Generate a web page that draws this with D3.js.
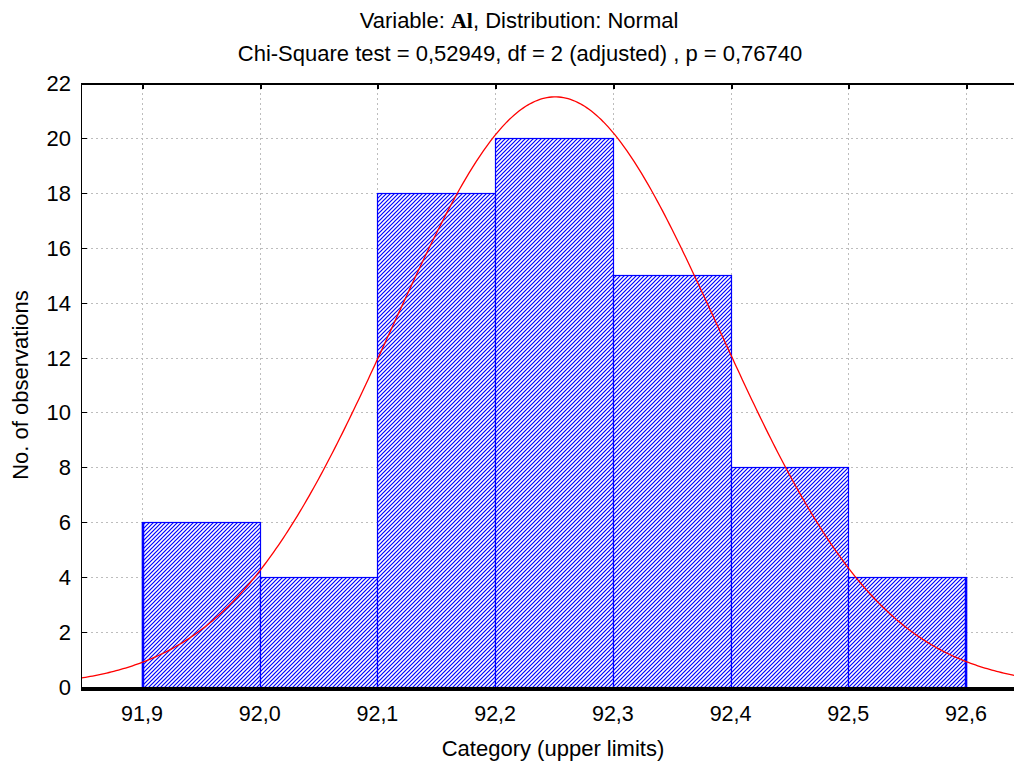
<!DOCTYPE html>
<html><head><meta charset="utf-8">
<script src="https://cdn.jsdelivr.net/npm/d3@7"></script>
<style>body{margin:0;background:#fff}svg{display:block}text{font-family:"Liberation Sans",Arial,sans-serif;fill:#000}</style>
</head><body>
<svg id="c" width="1014" height="764"></svg>
<script>
// Data
const binEdges = [91.9, 92.0, 92.1, 92.2, 92.3, 92.4, 92.5, 92.6];
const counts = [6, 4, 18, 20, 15, 8, 4];
const xTickLabels = ["91,9","92,0","92,1","92,2","92,3","92,4","92,5","92,6"];
const yTicks = [0,2,4,6,8,10,12,14,16,18,20,22];
// fitted normal distribution parameters
const fitMean = 92.251;
const fitSd = 0.1392;
const nObs = 75;
const binWidth = 0.1;

const svg = d3.select("#c");
const L = 81, R = 1014, T = 83, B = 687;
const x = d3.scaleLinear().domain([91.9, 92.6]).range([142, 966]);
const y = d3.scaleLinear().domain([0, 22]).range([B, T]);

const defs = svg.append("defs");
const pat = defs.append("pattern").attr("id","hatch").attr("patternUnits","userSpaceOnUse")
  .attr("width",4).attr("height",4);
pat.append("rect").attr("width",4).attr("height",4).attr("fill","#ffffff");
pat.append("path").attr("d","M-1,1 L1,-1 M0,4 L4,0 M3,5 L5,3")
  .attr("stroke","#0000ff").attr("stroke-width",1.2).attr("fill","none");
defs.append("clipPath").attr("id","clip").append("rect").attr("x",L).attr("y",T).attr("width",R-L).attr("height",B-T);

// grid
const grid = svg.append("g").attr("stroke","#bdbdbd").attr("stroke-dasharray","2,3").attr("shape-rendering","crispEdges");
yTicks.forEach(v=>{ if(v>0 && v<22) grid.append("line").attr("x1",L).attr("x2",R).attr("y1",Math.round(y(v))+0.5).attr("y2",Math.round(y(v))+0.5); });
binEdges.forEach(v=>grid.append("line").attr("x1",Math.round(x(v))+0.5).attr("x2",Math.round(x(v))+0.5).attr("y1",T).attr("y2",B));

// bars
const bars = svg.append("g");
counts.forEach((c,i)=>{
  const x0 = Math.round(x(binEdges[i])), x1 = Math.round(x(binEdges[i+1]));
  const yt = Math.round(y(c));
  bars.append("rect").attr("x",x0).attr("y",yt).attr("width",x1-x0).attr("height",B-yt)
    .attr("fill","url(#hatch)");
  bars.append("rect").attr("x",x0+0.5).attr("y",yt+0.5).attr("width",x1-x0).attr("height",B-yt)
    .attr("fill","none").attr("stroke","#0000ff").attr("stroke-width",1.2);
});
// thicker outer edges
[0, binEdges.length-1].forEach(k=>{
  const c = k===0 ? counts[0] : counts[counts.length-1];
  const xx = Math.round(x(binEdges[k])) + (k===0?1:0);
  svg.append("line").attr("x1",xx).attr("x2",xx)
    .attr("y1",y(c)).attr("y2",B).attr("stroke","#0000ff").attr("stroke-width",2.5);
});

// normal curve
const xs = d3.range(91.84, 92.65, 0.002);
const dens = v => nObs*binWidth/(fitSd*Math.sqrt(2*Math.PI))*Math.exp(-0.5*((v-fitMean)/fitSd)**2);
svg.append("path").attr("clip-path","url(#clip)")
  .attr("d", d3.line().x(v=>x(v)).y(v=>y(dens(v)))(xs))
  .attr("fill","none").attr("stroke","#ff0000").attr("stroke-width",1.3);

// frame
const fr = svg.append("g").attr("shape-rendering","crispEdges");
fr.append("line").attr("x1",L).attr("x2",R).attr("y1",T+0.5).attr("y2",T+0.5).attr("stroke","#000").attr("stroke-width",2);
fr.append("line").attr("x1",L+0.5).attr("x2",L+0.5).attr("y1",T).attr("y2",B).attr("stroke","#000").attr("stroke-width",1);
fr.append("line").attr("x1",L).attr("x2",R).attr("y1",B+1.5).attr("y2",B+1.5).attr("stroke","#000").attr("stroke-width",4);
yTicks.forEach(v=>fr.append("line").attr("x1",L).attr("x2",L+6).attr("y1",Math.round(y(v))+0.5).attr("y2",Math.round(y(v))+0.5).attr("stroke","#000"));
binEdges.forEach(v=>fr.append("line").attr("x1",Math.round(x(v))+1).attr("x2",Math.round(x(v))+1).attr("y1",T).attr("y2",T+6).attr("stroke","#000").attr("stroke-width",2));

// tick labels
svg.append("g").selectAll("text").data(yTicks).join("text")
  .attr("x",71).attr("y",v=>y(v)+8).attr("text-anchor","end").attr("font-size",22).text(v=>v);
svg.append("g").selectAll("text").data(binEdges).join("text")
  .attr("x",v=>x(v)).attr("y",721).attr("text-anchor","middle").attr("font-size",21.5).text((v,i)=>xTickLabels[i]);

// titles
const t1 = svg.append("text").attr("x",519).attr("y",28).attr("text-anchor","middle").attr("font-size",22);
t1.append("tspan").text("Variable: ");
t1.append("tspan").attr("font-family","Liberation Serif").attr("font-weight","bold").text("Al");
t1.append("tspan").text(", Distribution: Normal");
svg.append("text").attr("x",520).attr("y",61).attr("text-anchor","middle").attr("font-size",22)
  .text("Chi-Square test = 0,52949, df = 2 (adjusted) , p = 0,76740");
svg.append("text").attr("x",553).attr("y",756).attr("text-anchor","middle").attr("font-size",22).text("Category (upper limits)");
svg.append("text").attr("transform","translate(28,385) rotate(-90)").attr("text-anchor","middle").attr("font-size",22).text("No. of observations");
</script>
</body></html>
